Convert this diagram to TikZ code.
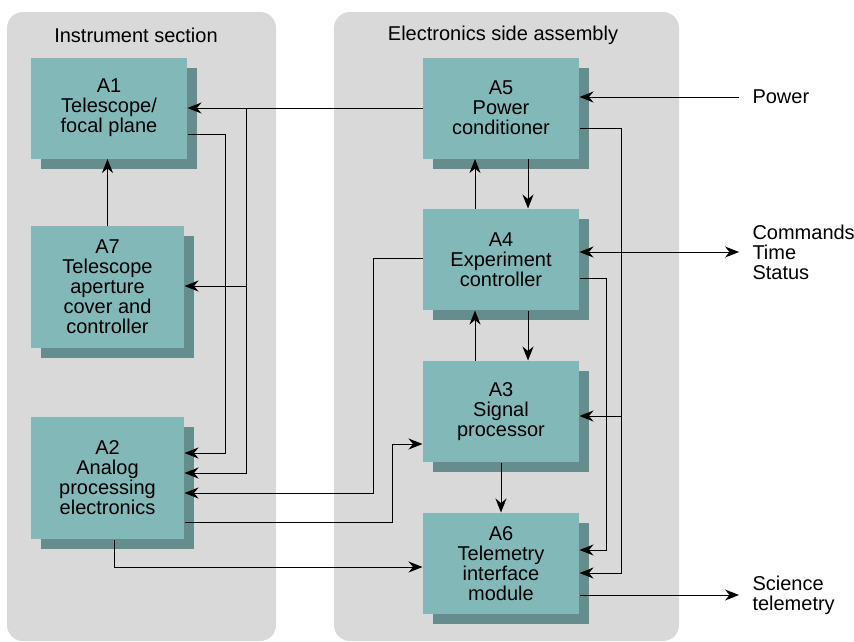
\documentclass[tikz,border=0pt]{standalone}
\usepackage{fontspec}
\setmainfont{Liberation Sans}
\usepackage{xcolor}
\usetikzlibrary{arrows.meta, shadows}

\definecolor{panelgray}{HTML}{D9D9D9}
\definecolor{boxteal}{HTML}{82B8B8}
\definecolor{boxshade}{HTML}{658D8D}

\begin{document}
\begin{tikzpicture}[
  x=1pt, y=-1pt,
  font=\fontsize{20pt}{20pt}\selectfont,
  panel/.style={fill=panelgray, rounded corners=16pt},
  unit/.style={fill=boxteal, align=center, inner sep=0pt,
    minimum width=156pt, minimum height=101pt,
    drop shadow={shadow xshift=10pt, shadow yshift=-10pt, fill=boxshade, opacity=1}},
  tall/.style={minimum width=153pt, minimum height=122pt},
  ext/.style={anchor=west, align=left, inner xsep=13pt, inner ysep=0pt},
  tip/.tip={Stealth[length=14pt, width=11pt, inset=4.5pt]},
  arr/.style={-tip},
  darr/.style={tip-tip},
  line width=1pt
]
\useasboundingbox (0,0) rectangle (854,641);

% the two sections
\fill[panel] (7,12) rectangle (276,641);
\fill[panel] (334,12) rectangle (679,641);
\node (instr) at (136,35) {Instrument section};
\node (elec) at (503,35) {Electronics side assembly};

% units
\node[unit] (A1) at (109,108) {A1\\Telescope/\\focal plane};
\node[unit, tall] (A7) at (107.5,287) {A7\\Telescope\\aperture\\cover and\\controller};
\node[unit, tall] (A2) at (107.5,478) {A2\\Analog\\processing\\electronics};
\node[unit] (A5) at (501,108) {A5\\Power\\conditioner};
\node[unit] (A4) at (501,259.5) {A4\\Experiment\\controller};
\node[unit] (A3) at (501,411.5) {A3\\Signal\\processor};
\node[unit] (A6) at (501,563.5) {A6\\Telemetry\\interface\\module};

% outside signals
\node[ext] (power) at (739,97) {Power};
\node[ext] (cmd) at (739,252) {Commands\\Time\\Status};
\node[ext] (sci) at (739,595) {Science\\telemetry};

% connections
\coordinate (bus) at (246,108);
\draw[arr] (A5.west) -- (A1.east);
\draw[arr] (bus) |- (A7.east |- 0,286);
\draw[arr] (bus) |- (A2.east |- 0,473);
\draw[arr] (A1.east |- 0,134) -| (225,453) -- (A2.east |- 0,453);
\draw[arr] (A7.north) -- (A7.north |- A1.south);
\draw[arr] (A4.west |- 0,258) -| (373,493) -- (A2.east |- 0,493);
\draw[arr] (A2.east |- 0,522) -| (392,444) -- (A3.west |- 0,444);
\draw[arr] (A2.south -| 114,0) |- (A6.west |- 0,567);
\draw[arr] (A4.north -| 475,0) -- (A5.south -| 475,0);
\draw[arr] (A5.south -| 528,0) -- (A4.north -| 528,0);
\draw[arr] (A3.north -| 475,0) -- (A4.south -| 475,0);
\draw[arr] (A4.south -| 528,0) -- (A3.north -| 528,0);
\draw[arr] (A3.south) -- (A6.north);
\draw[arr] (A5.east |- 0,128) -| (621,573) -- (A6.east |- 0,573);
\draw[arr] (621,416) -- (A3.east |- 0,416);
\draw[arr] (A4.east |- 0,278) -| (606,550) -- (A6.east |- 0,550);
\draw[arr] (power.west) -- (A5.east |- power.west);
\draw[darr] (A4.east |- cmd.west) -- (cmd.west);
\draw[arr] (A6.east |- sci.west) -- (sci.west);
\end{tikzpicture}
\end{document}
